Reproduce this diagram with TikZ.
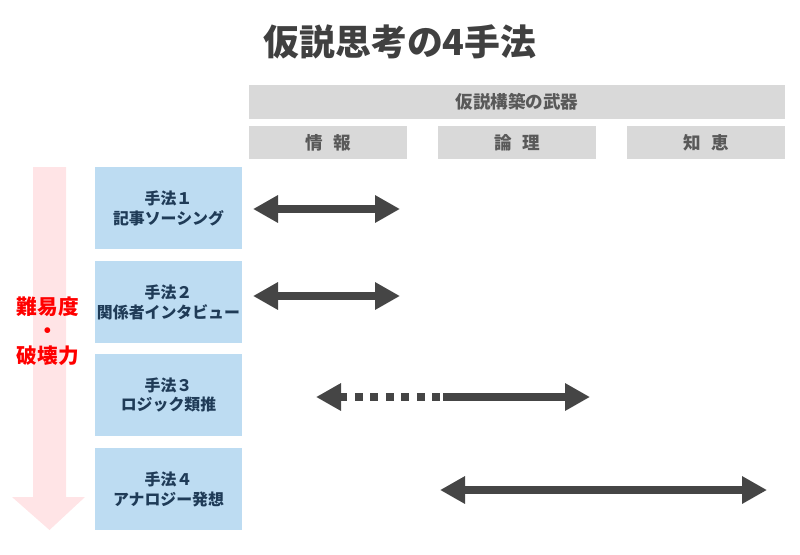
\documentclass[tikz,border=0pt]{standalone}
\usepackage{fontspec}
\setmainfont{Noto Sans CJK JP}
\usetikzlibrary{arrows.meta}
\definecolor{hdrgray}{HTML}{D9D9D9}
\definecolor{hdrtext}{HTML}{595959}
\definecolor{ttltext}{HTML}{404040}
\definecolor{boxblue}{HTML}{BDDCF2}
\definecolor{boxtext}{HTML}{1F3B57}
\definecolor{flowpink}{HTML}{FFE4E6}
\definecolor{arrgray}{HTML}{454545}

\begin{document}
\begin{tikzpicture}[x=0.025cm,y=-0.025cm,
		hdr/.style={fill=hdrgray,inner sep=0pt,font=\fontsize{12.5}{14}\selectfont\bfseries,text=hdrtext},
		method/.style={fill=boxblue,minimum width=147*0.025cm,minimum height=82*0.025cm,inner sep=0pt,
			align=center,font=\fontsize{11.3}{14.2}\selectfont\bfseries,text=boxtext},
		warrow/.style={draw=arrgray,line width=8*0.025cm,{Triangle[length=25*0.025cm,width=26*0.025cm]}-{Triangle[length=25*0.025cm,width=26*0.025cm]}}]
			\useasboundingbox (0,0) rectangle (800,554);

			\node[font=\fontsize{25.5}{30}\selectfont\bfseries,text=ttltext] (title) at (400,42) {仮説思考の4手法};

			\node[hdr,minimum width=536*0.025cm,minimum height=34*0.025cm] (weapon) at (517,102) {仮説構築の武器};
			\node[hdr,minimum width=158*0.025cm,minimum height=33*0.025cm] (info) at (328,142.5) {情\hspace{0.6em}報};
			\node[hdr,minimum width=158*0.025cm,minimum height=33*0.025cm] (logic) at (517,142.5) {論\hspace{0.6em}理};
			\node[hdr,minimum width=158*0.025cm,minimum height=33*0.025cm] (wisdom) at (706,142.5) {知\hspace{0.6em}恵};

			\fill[flowpink] (33,167) -- (66,167) -- (66,497) -- (85,497) -- (49.5,530) -- (12,497) -- (33,497) -- cycle;
			\node[font=\fontsize{14.7}{17.5}\selectfont\bfseries,text=red,align=center] (level) at (48,331) {難易度\\・\\破壊力};

			\node[method] (m1) at (168.5,208) {手法１\\記事ソーシング};
			\node[method] (m2) at (168.5,302) {手法２\\関係者インタビュー};
			\node[method] (m3) at (168.5,395) {手法３\\ロジック類推};
			\node[method] (m4) at (168.5,489) {手法４\\アナロジー発想};

			\coordinate (a1l) at (253,209);
			\coordinate (a1r) at (400,209);
			\coordinate (a2l) at (253,296);
			\coordinate (a2r) at (400,296);
			\coordinate (a3l) at (316,397);
			\coordinate (a3m) at (443,397);
			\coordinate (a3r) at (590,397);
			\coordinate (a4l) at (440,490);
			\coordinate (a4r) at (767,490);

			\draw[warrow] (a1l) -- (a1r);
			\draw[warrow] (a2l) -- (a2r);
			\draw[draw=arrgray,line width=8*0.025cm,-{Triangle[length=25*0.025cm,width=26*0.025cm]}] (a3m) -- (a3r);
			\draw[draw=arrgray,line width=8*0.025cm,dash pattern=on 8*0.025cm off 7.5*0.025cm,{Triangle[length=25*0.025cm,width=26*0.025cm]}-] (a3l) -- (a3m);
			\draw[warrow] (a4l) -- (a4r);
\end{tikzpicture}
\end{document}
